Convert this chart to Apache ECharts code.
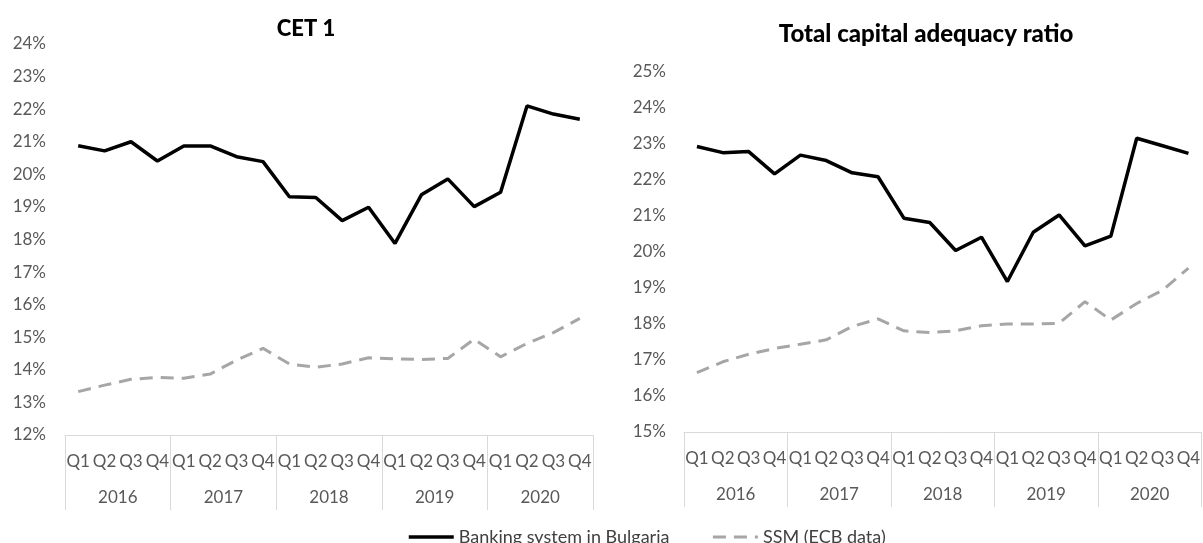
<!DOCTYPE html>
<html>
<head>
<meta charset="utf-8">
<script src="https://cdn.jsdelivr.net/npm/echarts@6/dist/echarts.min.js"></script>
<style>
html,body{margin:0;padding:0;background:#fff;}
#chart{width:1203px;height:543px;}
</style>
</head>
<body>
<div id="chart"></div>
<script>
// ---- data ----
const years = ['2016', '2017', '2018', '2019', '2020'];
const quarters = ['Q1', 'Q2', 'Q3', 'Q4'];
const seriesNames = ['Banking system in Bulgaria', 'SSM (ECB data)'];
const titles = ['CET 1', 'Total capital adequacy ratio'];

// CET 1 (%)
const cetBulgaria = [20.88, 20.72, 21.0, 20.41, 20.87, 20.87, 20.54, 20.39, 19.31, 19.29, 18.58, 18.99, 17.88, 19.37, 19.86, 19.01, 19.45, 22.10, 21.85, 21.69];
const cetSSM = [13.33, 13.53, 13.71, 13.77, 13.74, 13.87, 14.30, 14.66, 14.18, 14.08, 14.18, 14.37, 14.34, 14.32, 14.35, 14.94, 14.40, 14.81, 15.14, 15.58];
// Total capital adequacy ratio (%)
const tcarBulgaria = [22.93, 22.76, 22.79, 22.17, 22.69, 22.54, 22.20, 22.09, 20.94, 20.82, 20.04, 20.41, 19.18, 20.55, 21.03, 20.17, 20.44, 23.16, 22.95, 22.74];
const tcarSSM = [16.65, 16.95, 17.16, 17.32, 17.44, 17.56, 17.93, 18.14, 17.81, 17.76, 17.81, 17.95, 18.0, 18.0, 18.02, 18.62, 18.11, 18.57, 18.94, 19.55];

// ---- build ----
const categories = [];
years.forEach(y => quarters.forEach(q => categories.push(y + ' ' + q)));

const FONT = 'Lato';
const axisGray = '#d9d9d9';
const labelColor = '#595959';

function quarterAxis(gridIndex) {
  return {
    type: 'category', gridIndex, data: categories, boundaryGap: true,
    axisLine: { show: true, lineStyle: { color: axisGray, width: 1 } },
    axisTick: { show: false },
    axisLabel: { interval: 0, margin: 18, color: labelColor, fontFamily: FONT, fontSize: 17,
      formatter: v => v.split(' ')[1] },
    splitLine: { show: false }
  };
}
function yearAxis(gridIndex) {
  return {
    type: 'category', gridIndex, data: years, position: 'bottom', boundaryGap: true,
    axisLine: { show: false },
    axisTick: { show: true, alignWithLabel: false, length: 75, lineStyle: { color: axisGray, width: 1 } },
    axisLabel: { interval: 0, margin: 54, color: labelColor, fontFamily: FONT, fontSize: 17 },
    splitLine: { show: false }
  };
}
function yAxis(gridIndex, min, max, margin) {
  return {
    type: 'value', gridIndex, min, max, interval: 1,
    axisLine: { show: false }, axisTick: { show: false },
    splitLine: { show: false },
    axisLabel: { margin, color: labelColor, fontFamily: FONT, fontSize: 17, formatter: '{value}%' }
  };
}
const blackStyle = { color: '#000000', width: 3.5, type: 'solid' };
const grayStyle = { color: '#a6a6a6', width: 3, type: [13, 8] };
function lineSeries(name, data, xi, yi, style) {
  return {
    name, type: 'line', data, xAxisIndex: xi, yAxisIndex: yi,
    symbol: 'none', smooth: false, silent: true,
    lineStyle: style, itemStyle: { color: style.color },
    animation: false
  };
}

const chart = echarts.init(document.getElementById('chart'), null, { renderer: 'canvas' });
chart.setOption({
  animation: false,
  backgroundColor: '#ffffff',
  title: [
    { text: titles[0], left: 301, top: 13, textAlign: 'center',
      textStyle: { fontFamily: FONT, fontWeight: 900, fontSize: 22, color: '#000' } },
    { text: titles[1], left: 921, top: 17, textAlign: 'center',
      textStyle: { fontFamily: FONT, fontWeight: 900, fontSize: 24, color: '#000' } }
  ],
  legend: {
    data: seriesNames, left: 407, top: 528, padding: 0, itemWidth: 45, itemHeight: 14, itemGap: 42,
    itemStyle: { opacity: 0 },
    lineStyle: { width: 'inherit' },
    textStyle: { fontFamily: FONT, fontSize: 18, color: '#404040' }
  },
  grid: [
    { left: 65, right: 610, top: 44, bottom: 108, containLabel: false },
    { left: 684, right: -6, top: 72, bottom: 111, containLabel: false }
  ],
  xAxis: [quarterAxis(0), yearAxis(0), quarterAxis(1), yearAxis(1)],
  yAxis: [yAxis(0, 12, 24, 19), yAxis(1, 15, 25, 18)],
  series: [
    lineSeries(seriesNames[0], cetBulgaria, 0, 0, blackStyle),
    lineSeries(seriesNames[1], cetSSM, 0, 0, grayStyle),
    lineSeries(seriesNames[0], tcarBulgaria, 2, 1, blackStyle),
    lineSeries(seriesNames[1], tcarSSM, 2, 1, grayStyle)
  ]
});
</script>
</body>
</html>
